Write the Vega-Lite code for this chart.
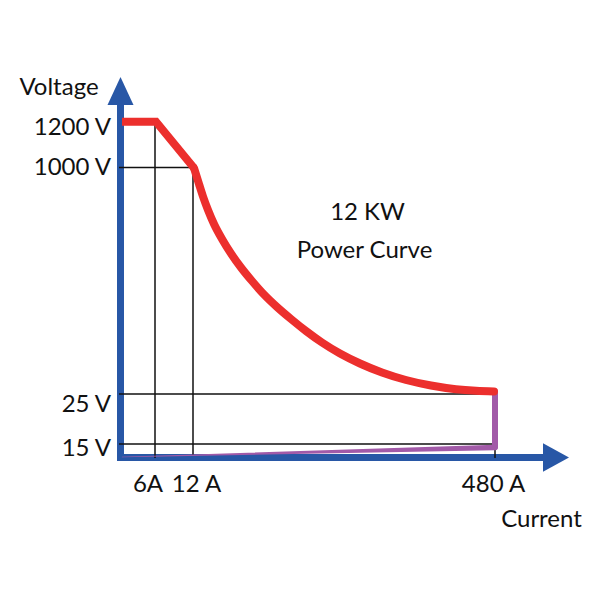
{
  "$schema": "https://vega.github.io/schema/vega-lite/v6.json",
  "width": 600,
  "height": 600,
  "autosize": {"type": "fit", "contains": "padding"},
  "padding": 0,
  "background": "white",
  "config": {"view": {"stroke": null}},
  "datasets": {
    "axes": [
      {"x": 120.5, "y": 461, "x2": 120.5, "y2": 100},
      {"x": 117, "y": 457.5, "x2": 548, "y2": 457.5}
    ],
    "arrowUp": [{"x": 120.5, "y": 91}],
    "arrowRight": [{"x": 556, "y": 457.5}],
    "grid": [
      {"x": 155, "y": 121.7, "x2": 155, "y2": 458},
      {"x": 193, "y": 167.5, "x2": 193, "y2": 455},
      {"x": 495, "y": 444, "x2": 495, "y2": 458},
      {"x": 119, "y": 167.5, "x2": 193, "y2": 167.5},
      {"x": 119, "y": 394, "x2": 495, "y2": 394},
      {"x": 119, "y": 444, "x2": 495, "y2": 444}
    ],
    "segment": [
      {"i": 0, "x": 122, "y": 121.7},
      {"i": 1, "x": 156, "y": 121.7},
      {"i": 2, "x": 194, "y": 168}
    ],
    "curve": [
      {"i": 0, "x": 194, "y": 168},
      {"i": 1, "x": 199, "y": 184},
      {"i": 2, "x": 203, "y": 196.5},
      {"i": 3, "x": 208, "y": 210},
      {"i": 4, "x": 214, "y": 224},
      {"i": 5, "x": 222, "y": 239},
      {"i": 6, "x": 231, "y": 253.5},
      {"i": 7, "x": 241, "y": 267.5},
      {"i": 8, "x": 252, "y": 281},
      {"i": 9, "x": 264, "y": 294.5},
      {"i": 10, "x": 277, "y": 307},
      {"i": 11, "x": 291, "y": 319},
      {"i": 12, "x": 306, "y": 331},
      {"i": 13, "x": 322, "y": 342.5},
      {"i": 14, "x": 340, "y": 353.5},
      {"i": 15, "x": 360, "y": 363.5},
      {"i": 16, "x": 382, "y": 372.5},
      {"i": 17, "x": 406, "y": 380},
      {"i": 18, "x": 431, "y": 385.5},
      {"i": 19, "x": 456, "y": 389.2},
      {"i": 20, "x": 476, "y": 390.8},
      {"i": 21, "x": 494, "y": 391.5}
    ],
    "purpleV": [{"x": 495, "y": 391.5, "x2": 495, "y2": 447}],
    "purpleTrail": [
      {"i": 0, "x": 122, "y": 457, "w": 0.5},
      {"i": 1, "x": 495, "y": 447.5, "w": 5.5}
    ],
    "labelsLeft": [
      {"t": "1200 V", "x": 111, "y": 135},
      {"t": "1000 V", "x": 111, "y": 175},
      {"t": "25 V", "x": 111, "y": 411.5},
      {"t": "15 V", "x": 111, "y": 456}
    ],
    "labelsCenter": [
      {"t": "6A", "x": 148, "y": 491.5},
      {"t": "12 A", "x": 196.5, "y": 491.5},
      {"t": "480 A", "x": 493.5, "y": 491.5},
      {"t": "Current", "x": 541.5, "y": 527},
      {"t": "Voltage", "x": 59, "y": 95},
      {"t": "12 KW", "x": 367.5, "y": 220},
      {"t": "Power Curve", "x": 364.5, "y": 258.3}
    ]
  },
  "encoding": {
    "x": {"field": "x", "type": "quantitative", "scale": {"domain": [0, 600], "nice": false, "zero": false}, "axis": null},
    "y": {"field": "y", "type": "quantitative", "scale": {"domain": [0, 600], "nice": false, "zero": false, "reverse": true}, "axis": null}
  },
  "layer": [
    {
      "data": {"name": "axes"},
      "mark": {"type": "rule", "color": "#2857a6", "strokeWidth": 7},
      "encoding": {"x2": {"field": "x2"}, "y2": {"field": "y2"}}
    },
    {
      "data": {"name": "arrowUp"},
      "mark": {"type": "point", "shape": "M0,-1.08L1,1.08L-1,1.08Z", "size": 676, "filled": true, "color": "#2857a6", "opacity": 1, "strokeWidth": 0}
    },
    {
      "data": {"name": "arrowRight"},
      "mark": {"type": "point", "shape": "M1,0L-1,-1.1L-1,1.1Z", "size": 676, "filled": true, "color": "#2857a6", "opacity": 1, "strokeWidth": 0}
    },
    {
      "data": {"name": "grid"},
      "mark": {"type": "rule", "color": "#111111", "strokeWidth": 1.5},
      "encoding": {"x2": {"field": "x2"}, "y2": {"field": "y2"}}
    },
    {
      "data": {"name": "purpleTrail"},
      "mark": {"type": "trail", "color": "#a25aa8"},
      "encoding": {
        "order": {"field": "i", "type": "quantitative"},
        "size": {"field": "w", "type": "quantitative", "scale": null}
      }
    },
    {
      "data": {"name": "purpleV"},
      "mark": {"type": "rule", "color": "#a25aa8", "strokeWidth": 6, "strokeCap": "round"},
      "encoding": {"x2": {"field": "x2"}, "y2": {"field": "y2"}}
    },
    {
      "data": {"name": "segment"},
      "mark": {"type": "line", "color": "#ec2f2d", "strokeWidth": 8, "interpolate": "linear", "strokeJoin": "miter"},
      "encoding": {"order": {"field": "i", "type": "quantitative"}}
    },
    {
      "data": {"name": "curve"},
      "mark": {"type": "line", "color": "#ec2f2d", "strokeWidth": 8, "interpolate": "monotone", "strokeJoin": "round", "strokeCap": "round"},
      "encoding": {"order": {"field": "i", "type": "quantitative"}}
    },
    {
      "data": {"name": "labelsLeft"},
      "mark": {"type": "text", "align": "right", "baseline": "alphabetic", "font": "Lato", "fontSize": 24, "color": "#111111"},
      "encoding": {"text": {"field": "t"}}
    },
    {
      "data": {"name": "labelsCenter"},
      "mark": {"type": "text", "align": "center", "baseline": "alphabetic", "font": "Lato", "fontSize": 24, "color": "#111111"},
      "encoding": {"text": {"field": "t"}}
    }
  ]
}
